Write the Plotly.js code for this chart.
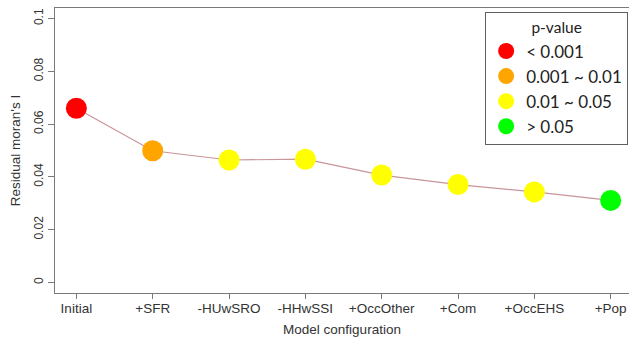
<!DOCTYPE html>
<html>
<head>
<meta charset="utf-8">
<script src="https://cdn.plot.ly/plotly-3.0.1.min.js"></script>
<style>html,body{margin:0;padding:0;background:#fff;}#chart{width:629px;height:342px;}</style>
</head>
<body>
<div id="chart"></div>
<script>
const categories = ["Initial", "+SFR", "-HUwSRO", "-HHwSSI", "+OccOther", "+Com", "+OccEHS", "+Pop"];
const moranI = [0.066, 0.0499, 0.0464, 0.0467, 0.0407, 0.0371, 0.0343, 0.0311];
const pClass = ["< 0.001", "0.001 ~ 0.01", "0.01 ~ 0.05", "0.01 ~ 0.05", "0.01 ~ 0.05", "0.01 ~ 0.05", "0.01 ~ 0.05", "> 0.05"];
const legendClasses = ["< 0.001", "0.001 ~ 0.01", "0.01 ~ 0.05", "> 0.05"];
const classColors = ["#ff0000", "#ffa500", "#ffff00", "#00ff00"];
const yTicks = [0, 0.02, 0.04, 0.06, 0.08, 0.1];
const yTickText = ["0", "0.02", "0.04", "0.06", "0.08", "0.1"];

const traces = [{
  x: categories, y: moranI, type: "scatter", mode: "lines",
  line: {color: "#c9949b", width: 1.2}, showlegend: false, hoverinfo: "skip"
}];
legendClasses.forEach((cls, k) => {
  const xs = [], ys = [];
  categories.forEach((c, i) => { if (pClass[i] === cls) { xs.push(c); ys.push(moranI[i]); } });
  traces.push({
    x: xs, y: ys, type: "scatter", mode: "markers", name: cls,
    marker: {color: classColors[k], size: 21, line: {width: 0}}
  });
});

const layout = {
  width: 629, height: 342,
  margin: {l: 54.5, r: 0, t: 8, b: 49},
  paper_bgcolor: "#ffffff", plot_bgcolor: "#ffffff",
  font: {family: "Liberation Sans, Arial, sans-serif", color: "#333333"},
  showlegend: true,
  xaxis: {
    type: "category", categoryorder: "array", categoryarray: categories,
    range: [-0.28, 7.24], showgrid: false, zeroline: false,
    showline: true, linecolor: "#7a7a7a", linewidth: 1, mirror: true,
    ticks: "outside", ticklen: 5, tickcolor: "#7a7a7a",
    tickfont: {size: 13.5, color: "#333333"}, ticklabelstandoff: -2,
    title: {text: "Model configuration", font: {size: 13.5, color: "#333333"}, standoff: 9}
  },
  yaxis: {
    range: [-0.004, 0.104], tickvals: yTicks, ticktext: yTickText, tickangle: -90,
    showgrid: false, zeroline: false,
    showline: true, linecolor: "#7a7a7a", linewidth: 1,
    ticks: "outside", ticklen: 6, tickcolor: "#7a7a7a",
    tickfont: {size: 12, color: "#333333"},
    title: {text: "Residual moran's I", font: {size: 13.5, color: "#333333"}, standoff: 8}
  },
  legend: {
    x: 0.9985, xanchor: "right", y: 0.985, yanchor: "top",
    bordercolor: "#606060", borderwidth: 1, bgcolor: "#ffffff",
    font: {family: "Lato, Open Sans, sans-serif", size: 17, color: "#222222"},
    title: {text: "p-value", side: "top center", font: {family: "Lato, Open Sans, sans-serif", size: 15.5, color: "#222222"}},
    itemsizing: "trace", tracegroupgap: 0
  }
};
Plotly.newPlot("chart", traces, layout, {staticPlot: true, displayModeBar: false});
</script>
</body>
</html>
